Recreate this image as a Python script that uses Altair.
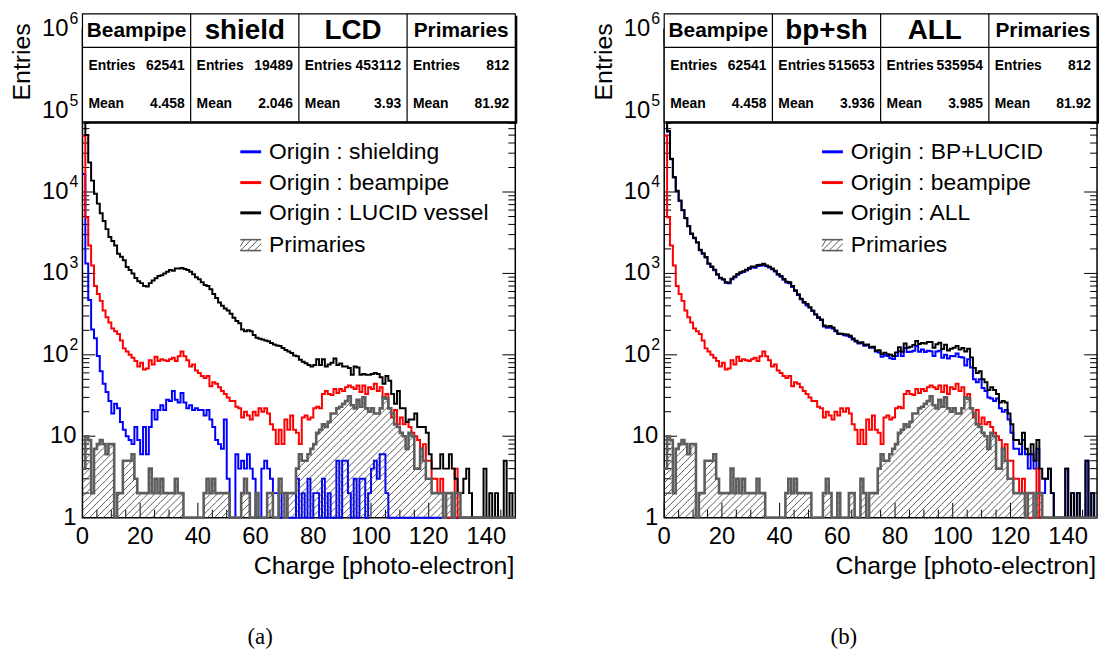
import math
import altair as alt
import pandas as pd

# ---------------- data ----------------
# bin i covers [i, i+1) photo-electrons, 150 bins from 0 to 150
bins = list(range(150))

beampipe = [49000, 4900, 2200, 1250, 700, 560, 460, 350, 290, 250,
            210, 195, 180, 150, 120, 110, 100, 92, 84, 72,
            80, 66, 68, 86, 76, 95, 84, 88, 86, 84,
            88, 92, 84, 96, 110, 96, 86, 72, 76, 64,
            60, 55, 52, 55, 41, 46, 44, 40, 36, 33,
            30, 27, 27, 23, 22, 17, 20, 18, 16, 20,
            18, 22, 20, 22, 19, 14, 12, 8, 12, 8,
            16, 12, 18, 12, 11, 8, 17, 18, 16, 17,
            22, 23, 22, 33, 36, 33, 32, 38, 34, 38,
            36, 40, 42, 40, 38, 42, 35, 42, 33, 40,
            38, 44, 36, 40, 30, 33, 22, 17, 21, 14,
            17, 14, 15, 13, 11, 10, 9, 7, 8, 5,
            5, 3, 3, 2, 3, 2, 0, 0, 0, 4,
            0, 0, 0, 0, 0, 0, 0, 0, 0, 0,
            0, 0, 0, 0, 0, 0, 0, 0, 0, 0]

shielding = [16600, 1320, 470, 205, 160, 97, 63, 44, 35, 27,
             19, 25, 22, 15, 12, 10, 9, 8, 13, 9,
             6, 13, 6, 13, 21, 16, 21, 24, 21, 28,
             27, 36, 28, 26, 34, 26, 22, 24, 21, 22,
             21, 21, 18, 21, 16, 13, 9, 8, 7, 16,
             3, 0, 1, 6, 4, 5, 4, 6, 4, 3,
             1, 0, 4, 5, 4, 3, 2, 2, 0, 2,
             2, 0, 1, 0, 3, 1, 2, 0, 3, 1,
             2, 2, 0, 3, 1, 2, 1, 1, 5, 1,
             5, 5, 2, 1, 3, 1, 3, 3, 1, 2,
             4, 5, 3, 6, 6, 2, 1, 0, 0, 0,
             0, 0, 0, 0, 0, 0, 0, 0, 0, 0,
             0, 0, 0, 0, 0, 0, 0, 0, 0, 0,
             0, 0, 0, 0, 0, 0, 0, 0, 0, 0,
             0, 0, 0, 0, 0, 0, 0, 0, 0, 0]

lucid_vessel = [290000, 50000, 23000, 13800, 9500, 7200, 5500, 4400, 3500, 2800,
                2500, 2200, 1750, 1600, 1450, 1200, 1100, 1000, 880, 800,
                760, 700, 690, 760, 820, 870, 930, 950, 1000, 1050,
                1100, 1080, 1150, 1150, 1170, 1130, 1100, 1050, 980, 900,
                850, 780, 720, 700, 640, 560, 500, 440, 400, 370,
                350, 320, 285, 260, 245, 205, 195, 200, 195, 175,
                162, 158, 154, 150, 147, 140, 134, 130, 128, 121,
                115, 110, 105, 98, 96, 87, 82, 79, 75, 72,
                75, 88, 75, 88, 72, 76, 80, 90, 75, 78,
                72, 72, 69, 57, 72, 70, 57, 58, 57, 57,
                58, 60, 58, 53, 44, 55, 48, 33, 25, 36,
                22, 22, 15, 16, 16, 19, 13, 13, 13, 11,
                6, 4, 4, 4, 6, 4, 4, 6, 4, 3,
                2, 2, 3, 4, 2, 1, 1, 1, 1, 4,
                1, 2, 1, 2, 1, 1, 5, 1, 2, 1]

primaries = [4, 10, 9, 2, 7, 8, 9, 8, 6, 8,
             8, 1, 2, 2, 5, 5, 5, 6, 3, 2,
             2, 2, 2, 4, 2, 3, 2, 3, 2, 2,
             2, 2, 3, 2, 2, 1, 0, 0, 0, 0,
             0, 1, 2, 3, 2, 3, 2, 2, 2, 2,
             2, 1, 1, 1, 1, 2, 3, 2, 1, 1,
             2, 1, 1, 1, 2, 2, 1, 1, 3, 2,
             1, 2, 2, 2, 4, 6, 5, 5, 6, 7,
             8, 11, 12, 14, 13, 15, 19, 19, 22, 23,
             25, 27, 31, 24, 22, 28, 23, 30, 22, 20,
             22, 19, 19, 22, 30, 29, 22, 19, 14, 13,
             11, 10, 7, 11, 10, 4, 4, 7, 5, 3,
             3, 2, 2, 2, 2, 1, 2, 2, 1, 2,
             2, 1, 0, 0, 0, 0, 0, 0, 0, 0,
             0, 0, 0, 0, 0, 0, 0, 0, 0, 0]

for s in (beampipe, shielding, lucid_vessel, primaries):
    assert len(s) == 150

# right panel histograms are the sums of the components (bp+sh = beampipe + LCD, ALL = everything)
bp_lucid = [b + l for b, l in zip(beampipe, lucid_vessel)]
all_origins = [b + s + l + p for b, s, l, p in zip(beampipe, shielding, lucid_vessel, primaries)]

x_major = [0, 20, 40, 60, 80, 100, 120, 140]
x_minor = [v for v in range(5, 150, 5) if v % 20]
y_major = [1, 10, 100, 1000, 10000, 100000, 1000000]
y_minor = [k * 10 ** d for d in range(6) for k in range(2, 10)]
y_plain_labels = {1: "1", 10: "10"}
y_exp_labels = {100: "2", 1000: "3", 10000: "4", 100000: "5", 1000000: "6"}

left_stats = dict(titles=["Beampipe", "shield", "LCD", "Primaries"],
                  entries=["62541", "19489", "453112", "812"],
                  means=["4.458", "2.046", "3.93", "81.92"])
right_stats = dict(titles=["Beampipe", "bp+sh", "ALL", "Primaries"],
                   entries=["62541", "515653", "535954", "812"],
                   means=["4.458", "3.936", "3.985", "81.92"])
left_legend = ["Origin : shielding", "Origin : beampipe", "Origin : LUCID vessel", "Primaries"]
right_legend = ["Origin : BP+LUCID", "Origin : beampipe", "Origin : ALL", "Primaries"]

# ---------------- styling / layout ----------------
W, H = 436, 492
SX = W / 150.0
SY = H / 6.0
FONT = "Liberation Sans"
SERIF = "Liberation Serif"
BLUE, RED, BLACK, GREY = "#0000ff", "#ff0000", "#000000", "#5e5e5e"
XS = alt.Scale(domain=[0, 150], nice=False, zero=False, padding=0)
YS = alt.Scale(type="log", domain=[1, 1e6], nice=False)
ONE = pd.DataFrame({"k": [0]})


def step_df(counts):
    xs = bins + [150]
    vs = [max(c, 1) for c in counts] + [max(counts[-1], 1)]
    return pd.DataFrame({"x": xs, "v": vs})


def step_line(counts, color, width=2.0):
    return alt.Chart(step_df(counts)).mark_line(
        interpolate="step-after", color=color, strokeWidth=width
    ).encode(x=alt.X("x:Q", scale=XS, axis=None), y=alt.Y("v:Q", scale=YS, axis=None))


def hatch_df(counts, spacing=7.0):
    rows = []
    for i, c in enumerate(counts):
        if c <= 1:
            continue
        x0, x1 = i * SX, (i + 1) * SX
        h = math.log10(c) * SY
        k0 = math.floor((x0 - h) / spacing)
        k1 = math.ceil(x1 / spacing)
        for k in range(k0, k1 + 1):
            c0 = k * spacing
            xa, xb = max(x0, c0), min(x1, c0 + h)
            if xb - xa > 0.05:
                rows.append({"x": xa / SX, "x2": xb / SX,
                             "y": 10 ** ((xa - c0) / SY), "y2": 10 ** ((xb - c0) / SY)})
    return pd.DataFrame(rows)


def T(x, y, s, size, weight="normal", align="left", baseline="middle", font=FONT, angle=None):
    props = dict(fontSize=size, fontWeight=weight, align=align, baseline=baseline,
                 font=font, color="black")
    if angle is not None:
        props["angle"] = angle
    return alt.Chart(ONE).mark_text(**props).encode(
        x=alt.value(x), y=alt.value(y), text=alt.value(s))


def R(x, y, x2, y2, color="black", width=1.0):
    return alt.Chart(ONE).mark_rule(color=color, strokeWidth=width).encode(
        x=alt.value(x), y=alt.value(y), x2=alt.value(x2), y2=alt.value(y2))


def BOX(x, y, x2, y2, fill, stroke=None, sw=1.0):
    props = dict(fill=fill)
    if stroke is not None:
        props.update(stroke=stroke, strokeWidth=sw)
    return alt.Chart(ONE).mark_rect(**props).encode(
        x=alt.value(x), y=alt.value(y), x2=alt.value(x2), y2=alt.value(y2))


def tick_layers():
    L = []
    xm = pd.DataFrame({"v": x_major})
    xn = pd.DataFrame({"v": x_minor})
    ym = pd.DataFrame({"v": y_major})
    yn = pd.DataFrame({"v": y_minor})
    for df, ln in ((xm, 15), (xn, 8)):
        L.append(alt.Chart(df).mark_rule(color="black", strokeWidth=1).encode(
            x=alt.X("v:Q", scale=XS, axis=None), y=alt.value(H), y2=alt.value(H - ln)))
        L.append(alt.Chart(df).mark_rule(color="black", strokeWidth=1).encode(
            x=alt.X("v:Q", scale=XS, axis=None), y=alt.value(0), y2=alt.value(ln)))
    for df, ln in ((ym, 13), (yn, 7)):
        L.append(alt.Chart(df).mark_rule(color="black", strokeWidth=1).encode(
            y=alt.Y("v:Q", scale=YS, axis=None), x=alt.value(0), x2=alt.value(ln)))
        L.append(alt.Chart(df).mark_rule(color="black", strokeWidth=1).encode(
            y=alt.Y("v:Q", scale=YS, axis=None), x=alt.value(W), x2=alt.value(W - ln)))
    return L


def label_layers():
    L = []
    xl = pd.DataFrame({"v": x_major, "t": [str(v) for v in x_major]})
    L.append(alt.Chart(xl).mark_text(fontSize=24, font=FONT, align="center", baseline="middle",
                                     color="black").encode(
        x=alt.X("v:Q", scale=XS, axis=None), y=alt.value(H + 20), text="t:N"))
    yp = pd.DataFrame({"v": list(y_plain_labels), "t": list(y_plain_labels.values())})
    L.append(alt.Chart(yp).mark_text(fontSize=24, font=FONT, align="right", baseline="middle",
                                     color="black").encode(
        y=alt.Y("v:Q", scale=YS, axis=None), x=alt.value(-6), text="t:N"))
    ye = pd.DataFrame({"v": list(y_exp_labels), "t": list(y_exp_labels.values())})
    L.append(alt.Chart(ye).mark_text(fontSize=24, font=FONT, align="right", baseline="middle",
                                     color="black", text="10").encode(
        y=alt.Y("v:Q", scale=YS, axis=None), x=alt.value(-14)))
    L.append(alt.Chart(ye).mark_text(fontSize=16, font=FONT, align="left", baseline="middle",
                                     color="black", dy=-10).encode(
        y=alt.Y("v:Q", scale=YS, axis=None), x=alt.value(-13), text="t:N"))
    L.append(T(W - 1, 549, "Charge [photo-electron]", 25, align="right", baseline="alphabetic"))
    L.append(T(-61, -6, "Entries", 25, align="right", baseline="middle", angle=270))
    return L


def stats_layers(st):
    L = []
    bx = [0, 109, 218, 327, 436]
    top, mid, bot = -15.5, 18.3, 93.3
    L.append(BOX(bx[0] + 2, top + 2, bx[-1] + 2, bot + 2, "black"))
    L.append(BOX(bx[0], top, bx[-1], bot, "white", "black", 1.2))
    for xd in bx[1:-1]:
        L.append(R(xd, top, xd, bot, "black", 1.2))
    L.append(R(bx[0], mid, bx[-1], mid, "black", 1.2))
    sizes = [21, 28, 28, 21]
    for i in range(4):
        a, b = bx[i], bx[i + 1]
        size = sizes[i]
        L.append(T((a + b) / 2, 2, st["titles"][i], size, weight="bold", align="center"))
        L.append(T(a + 6, 37, "Entries", 14, weight="bold"))
        L.append(T(b - 6, 37, st["entries"][i], 14, weight="bold", align="right"))
        L.append(T(a + 6, 75, "Mean", 14, weight="bold"))
        L.append(T(b - 6, 75, st["means"][i], 14, weight="bold", align="right"))
    return L


def legend_layers(labels, colors):
    L = []
    rows = [123.5, 154.5, 185.0, 217.5]
    for lab, col, yy in zip(labels[:3], colors, rows[:3]):
        L.append(R(159, yy, 180, yy, col, 3))
        L.append(T(188, yy, lab, 23))
    yy = rows[3]
    y0, y1 = yy - 5.5, yy + 5.5
    L.append(R(159, y0, 180, y0, GREY, 1.6))
    L.append(R(159, y1, 180, y1, GREY, 1.6))
    for (xa, ya, xb, yb) in ((159, y1, 170, y0), (166, y1, 177, y0), (173, y1, 180, y1 - 7),
                             (159, y1 - 4, 163, y0)):
        L.append(R(xa, ya, xb, yb, "#444444", 0.9))
    L.append(T(188, yy, labels[3], 23))
    return L


def panel(series, colors, legend, st, caption, cap_x):
    layers = []
    layers += tick_layers()
    for counts, col in zip(series, colors):
        layers.append(step_line(counts, col, 2.0))
    layers.append(alt.Chart(hatch_df(primaries)).mark_rule(color="#444444", strokeWidth=0.9).encode(
        x=alt.X("x:Q", scale=XS, axis=None), x2="x2:Q",
        y=alt.Y("y:Q", scale=YS, axis=None), y2="y2:Q"))
    layers.append(step_line(primaries, GREY, 2.6))
    layers += stats_layers(st)
    layers += legend_layers(legend, colors)
    layers += label_layers()
    layers.append(T(cap_x, 612, caption, 23, align="center", font=SERIF))
    return alt.layer(*layers).properties(width=W, height=H)


left = panel([shielding, beampipe, lucid_vessel], [BLUE, RED, BLACK], left_legend, left_stats, "(a)", 179)
right = panel([bp_lucid, beampipe, all_origins], [BLUE, RED, BLACK], right_legend, right_stats, "(b)", 181)

chart = alt.hconcat(left, right, spacing=70).properties(
    padding={"left": 1, "top": 0, "right": 0, "bottom": 2},
    background="white",
).configure_view(stroke="black", strokeWidth=1.5)

chart.save("out.html", embed_options={"renderer": "svg", "actions": False})
